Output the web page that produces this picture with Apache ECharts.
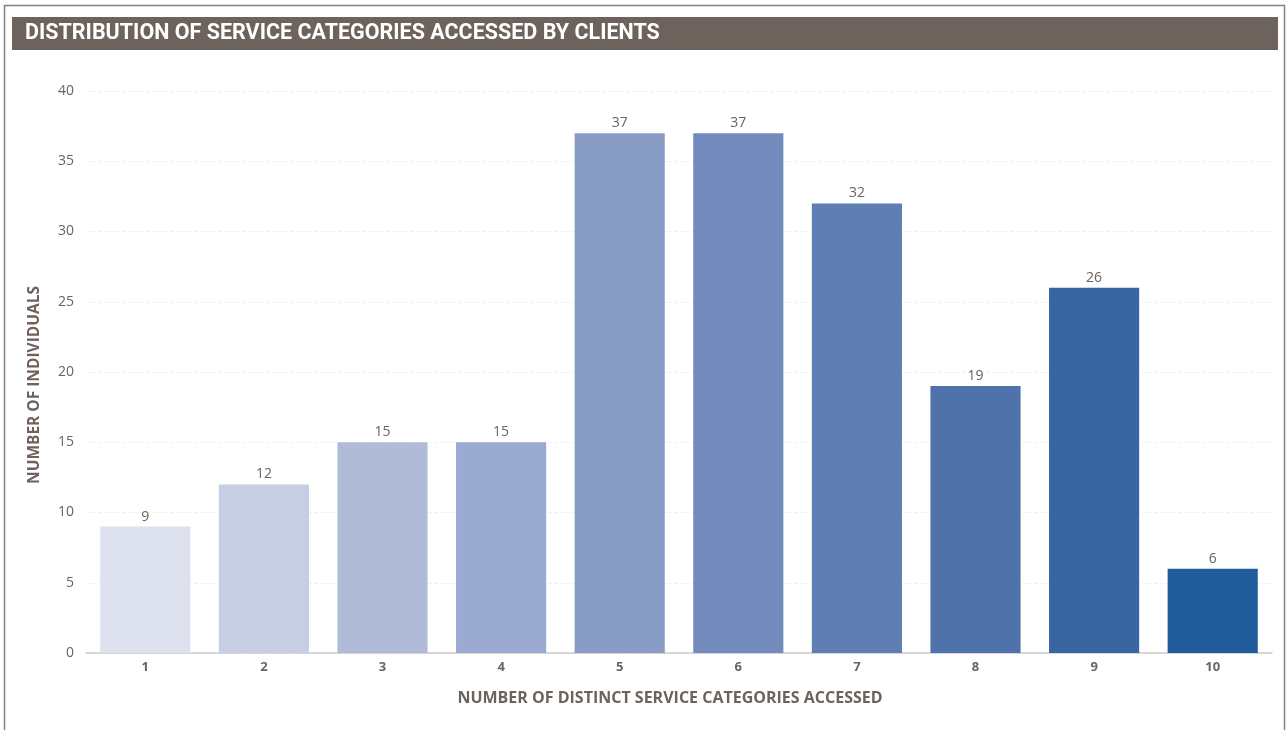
<!DOCTYPE html>
<html><head><meta charset="utf-8">
<script src="https://cdn.jsdelivr.net/npm/echarts@6/dist/echarts.min.js"></script>
<style>html,body{margin:0;padding:0;background:#fff;}#c{width:1287px;height:730px;}</style>
</head><body><div id="c"></div>
<script>
const titleText = 'DISTRIBUTION OF SERVICE CATEGORIES ACCESSED BY CLIENTS';
const categories = ['1','2','3','4','5','6','7','8','9','10'];
const values = [9, 12, 15, 15, 37, 37, 32, 19, 26, 6];
const barColors = ['#dee2ee','#c6cee3','#b0bbd8','#9aaad1','#889cc6','#728bbc','#5f7eb4','#4f72ab','#3966a2','#215d9a'];
const yTicks = [0, 5, 10, 15, 20, 25, 30, 35, 40];
const xName = 'NUMBER OF DISTINCT SERVICE CATEGORIES ACCESSED';
const yName = 'NUMBER OF INDIVIDUALS';
const txt = '#6e625d';
const chart = echarts.init(document.getElementById('c'), null, {renderer:'canvas'});
chart.setOption({
  animation: false,
  graphic: [
    {type:'rect', shape:{x:4.5,y:5.5,width:1280,height:740}, style:{fill:'none', stroke:'#8a7f7a', lineWidth:1.5}, z:-1},
    {type:'rect', shape:{x:12,y:17,width:1266,height:33}, style:{fill:'#6e625d'}, z:0}
  ],
  title: {text: titleText, left: 25, top: 23, padding:0,
    textStyle:{color:'#fff', fontFamily:'Roboto', fontWeight:'bold', fontSize:21.5}},
  grid: {left: 86, right: 15, top: 91, bottom: 77, containLabel:false},
  xAxis: {type:'category', data: categories,
    name: xName, nameLocation:'middle', nameGap: 37,
    nameTextStyle:{color:txt, fontFamily:'Open Sans', fontWeight:'bold', fontSize:16, padding:[0,18,0,0]},
    axisLine:{lineStyle:{color:'#cccccc', width:1.5}}, axisTick:{show:false},
    axisLabel:{color:txt, fontFamily:'Open Sans', fontWeight:'bold', fontSize:13, margin:8}},
  yAxis: {type:'value', min: yTicks[0], max: yTicks[yTicks.length-1], interval: 5,
    name: yName, nameLocation:'middle', nameGap: 43, nameRotate: 90,
    nameTextStyle:{color:txt, fontFamily:'Open Sans', fontWeight:'bold', fontSize:15.5, padding:[0,26,0,0]},
    axisLine:{show:false}, axisTick:{show:false},
    axisLabel:{color:txt, fontFamily:'Open Sans', fontSize:14, margin:12},
    splitLine:{lineStyle:{color:'#f2f2f2', type:'dashed', width:1}}},
  series: [{type:'bar', barCategoryGap:'24%',
    data: values.map((v,i)=>({value:v, itemStyle:{color:barColors[i]}})),
    label:{show:true, position:'top', distance:3, color:txt, fontFamily:'Open Sans', fontSize:14}}]
});
</script></body></html>
